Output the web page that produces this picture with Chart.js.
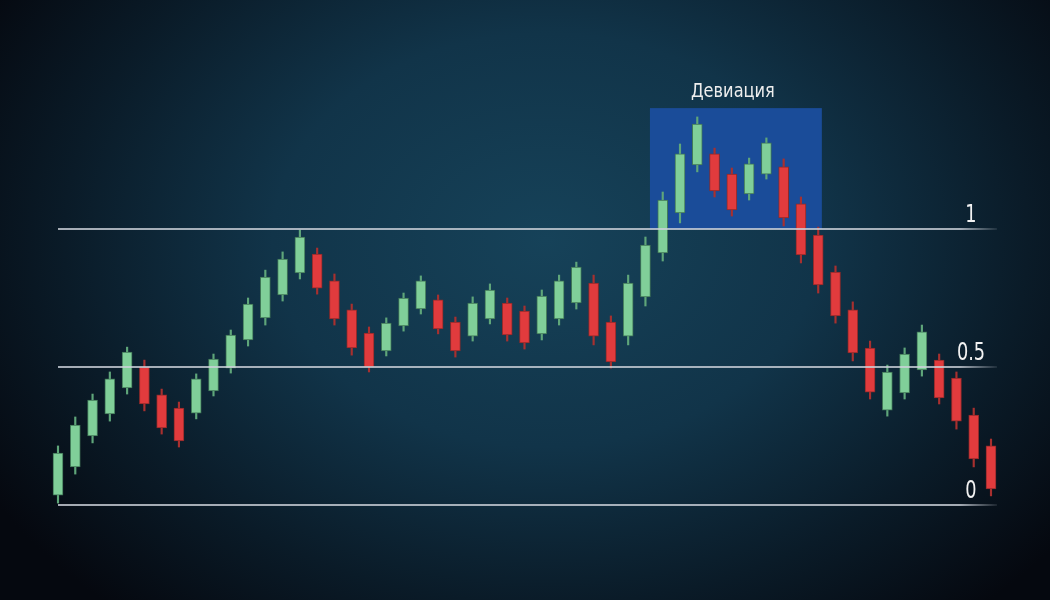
<!DOCTYPE html>
<html>
<head>
<meta charset="utf-8">
<script src="https://cdn.jsdelivr.net/npm/chart.js@4/dist/chart.umd.min.js"></script>
<style>
  html, body { margin: 0; padding: 0; }
  body {
    width: 1050px; height: 600px; overflow: hidden;
    background: radial-gradient(ellipse 62% 82% at 52% 40%, #164259 0%, #113449 42%, #0a1b28 74%, #05080f 100%);
  }
  #wrap { position: relative; width: 1050px; height: 600px; }
</style>
</head>
<body>
<div id="wrap"><canvas id="chart"></canvas></div>
<script>
/* global Chart */

// candle values in fib-level units (0 = bottom line, 1 = top line)
var opens  = [0.036, 0.138, 0.250, 0.330, 0.424, 0.500, 0.399, 0.351, 0.333, 0.413,
              0.496, 0.598, 0.678, 0.761, 0.841, 0.909, 0.812, 0.707, 0.623, 0.558,
              0.649, 0.710, 0.743, 0.663, 0.612, 0.674, 0.732, 0.703, 0.620, 0.674,
              0.732, 0.804, 0.663, 0.612, 0.754, 0.913, 1.058, 1.232, 1.272, 1.199,
              1.127, 1.199, 1.225, 1.091, 0.978, 0.844, 0.707, 0.569, 0.344, 0.406,
              0.489, 0.525, 0.460, 0.326, 0.214];
var closes = [0.188, 0.290, 0.380, 0.457, 0.554, 0.366, 0.279, 0.232, 0.457, 0.529,
              0.616, 0.728, 0.826, 0.891, 0.971, 0.786, 0.674, 0.569, 0.500, 0.659,
              0.750, 0.812, 0.638, 0.558, 0.732, 0.779, 0.616, 0.587, 0.757, 0.812,
              0.862, 0.612, 0.518, 0.804, 0.942, 1.105, 1.272, 1.380, 1.138, 1.069,
              1.236, 1.312, 1.040, 0.906, 0.797, 0.685, 0.551, 0.409, 0.482, 0.547,
              0.627, 0.388, 0.304, 0.167, 0.058];
var highs  = [0.214, 0.319, 0.402, 0.482, 0.572, 0.525, 0.420, 0.373, 0.475, 0.547,
              0.634, 0.750, 0.851, 0.917, 0.996, 0.931, 0.837, 0.728, 0.645, 0.678,
              0.768, 0.830, 0.761, 0.681, 0.754, 0.801, 0.750, 0.721, 0.779, 0.833,
              0.880, 0.833, 0.685, 0.833, 0.971, 1.134, 1.308, 1.406, 1.293, 1.221,
              1.257, 1.330, 1.254, 1.116, 1.007, 0.866, 0.736, 0.594, 0.507, 0.569,
              0.652, 0.547, 0.482, 0.351, 0.239];
var lows   = [0.007, 0.112, 0.225, 0.304, 0.402, 0.341, 0.257, 0.210, 0.312, 0.395,
              0.478, 0.576, 0.652, 0.739, 0.819, 0.764, 0.652, 0.543, 0.482, 0.540,
              0.630, 0.692, 0.620, 0.536, 0.594, 0.656, 0.594, 0.565, 0.598, 0.652,
              0.710, 0.580, 0.496, 0.580, 0.721, 0.884, 1.022, 1.207, 1.116, 1.047,
              1.105, 1.181, 1.011, 0.877, 0.768, 0.659, 0.522, 0.384, 0.322, 0.384,
              0.467, 0.366, 0.275, 0.138, 0.033];

var fibLevels = [0, 0.5, 1];
var fibLabels = ["0", "0.5", "1"];

// highlighted zone: candle index range and value range
var zoneRange = [34.26, 44.21];
var zoneValues = [1, 1.438];
var zoneLabel = "Девиация";

var GREEN = "#80cf99";
var RED = "#e13b3d";

var labels = opens.map(function (o, i) { return String(i + 1); });
var bodies = opens.map(function (o, i) { return [o, closes[i]]; });
var wicks = opens.map(function (o, i) { return [lows[i], highs[i]]; });
var isUp = opens.map(function (o, i) { return closes[i] >= o; });

var fontFam = "'DejaVu Sans Condensed', 'DejaVu Sans', sans-serif";

// narrow text: the original uses a condensed face
function narrowText(ctx, text, x, y, sx) {
  ctx.save();
  ctx.translate(x, y);
  ctx.scale(sx, 1);
  ctx.fillText(text, 0, 0);
  ctx.restore();
}

var zonePlugin = {
  id: "zone",
  beforeDatasetsDraw: function (chart) {
    var ctx = chart.ctx, x = chart.scales.x, y = chart.scales.y;
    var x0 = x.getPixelForValue(zoneRange[0]), x1 = x.getPixelForValue(zoneRange[1]);
    var y0 = y.getPixelForValue(zoneValues[1]), y1 = y.getPixelForValue(zoneValues[0]);
    ctx.save();
    ctx.fillStyle = "#1a4c99";
    ctx.fillRect(x0, y0, x1 - x0, y1 - y0);
    ctx.fillStyle = "#eeeeee";
    ctx.font = "20px " + fontFam;
    ctx.textAlign = "center";
    ctx.textBaseline = "alphabetic";
    narrowText(ctx, zoneLabel, (x0 + x1) / 2 - 3, y0 - 11, 0.9);
    ctx.restore();
  },
  afterDatasetsDraw: function (chart) {
    var ctx = chart.ctx, y = chart.scales.y, area = chart.chartArea;
    ctx.save();
    for (var i = 0; i < fibLevels.length; i++) {
      var py = y.getPixelForValue(fibLevels[i]);
      var g = ctx.createLinearGradient(area.left, 0, area.right + 6, 0);
      g.addColorStop(0, "rgba(205,210,218,0.8)");
      g.addColorStop(0.96, "rgba(205,210,218,0.8)");
      g.addColorStop(1, "rgba(205,210,218,0.1)");
      ctx.strokeStyle = g;
      ctx.lineWidth = 2;
      ctx.beginPath();
      ctx.moveTo(area.left, py);
      ctx.lineTo(area.right + 6, py);
      ctx.stroke();
      ctx.fillStyle = "#f2f2f2";
      ctx.font = "24px " + fontFam;
      ctx.textAlign = "center";
      narrowText(ctx, fibLabels[i], area.right - 20, py - 7, 0.82);
    }
    ctx.restore();
  }
};

new Chart(document.getElementById("chart"), {
  type: "bar",
  data: {
    labels: labels,
    datasets: [
      {
        data: wicks,
        backgroundColor: isUp.map(function (u) { return u ? "#5fa67a" : "#a8302f"; }),
        barThickness: 1.5,
        grouped: false,
        clip: false,
        order: 2
      },
      {
        data: bodies,
        backgroundColor: isUp.map(function (u) { return u ? GREEN : RED; }),
        borderColor: isUp.map(function (u) { return u ? "#3f7556" : "#8e2a2a"; }),
        borderWidth: 1,
        borderSkipped: false,
        barThickness: 10,
        grouped: false,
        clip: false,
        order: 1
      }
    ]
  },
  options: {
    responsive: true,
    maintainAspectRatio: false,
    animation: false,
    layout: { padding: { left: 58, right: 59, top: 229, bottom: 95 } },
    scales: {
      x: { display: false, offset: false },
      y: { display: false, min: 0, max: 1 }
    },
    plugins: { legend: { display: false }, tooltip: { enabled: false } }
  },
  plugins: [zonePlugin]
});
</script>
</body>
</html>
